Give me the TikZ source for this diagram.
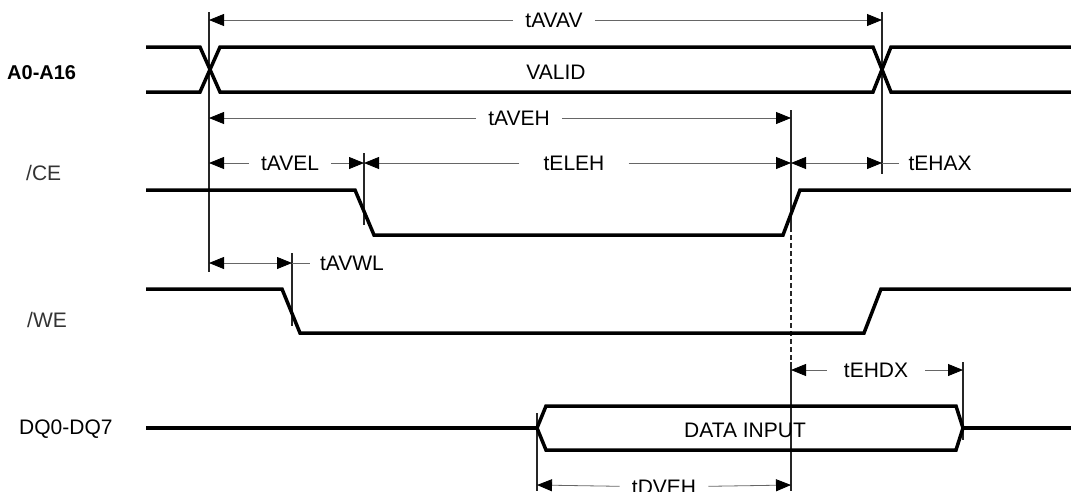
\documentclass[tikz,border=0pt]{standalone}
\usepackage{fontspec}
\setmainfont{Liberation Sans}
\usetikzlibrary{arrows.meta}

\begin{document}
\begin{tikzpicture}[x=1pt,y=-1pt,
  wave/.style={line width=3.5pt},
  guide/.style={line width=1.2pt,black!85},
  dim/.style={line width=0.8pt,black!60,arrows={-Triangle[length=15pt,width=12pt,black]}},
  dimboth/.style={line width=0.8pt,black!60,arrows={Triangle[length=15pt,width=12pt,black]-Triangle[length=15pt,width=12pt,black]}},
  tlbl/.style={font=\fontsize{21}{24}\selectfont,inner xsep=12pt,inner ysep=0pt},
  sig/.style={font=\fontsize{21}{24}\selectfont,anchor=west,inner sep=0pt}]
\useasboundingbox (0,0) rectangle (1071,491);

% signal names
\node[sig,font=\fontsize{20}{24}\selectfont\bfseries] (lAddr) at (7,73) {A0-A16};
\node[sig,black!80] (lCE) at (26,173) {/CE};
\node[sig,black!80] (lWE) at (27,320) {/WE};
\node[sig] (lDQ) at (19,429) {DQ0-DQ7};

% guide lines
\draw[guide] (209,12) -- (209,272);
\draw[guide] (882,12) -- (882,174);
\draw[guide] (791,110) -- (791,227);
\draw[guide,dash pattern=on 5pt off 3pt] (791,227) -- (791,362);
\draw[guide] (791,362) -- (791,491);
\draw[guide] (364,153) -- (364,225);
\draw[guide] (292,253) -- (292,326);
\draw[guide] (963,362) -- (963,440);
\draw[guide] (537,413) -- (537,491);

% waveforms
\draw[wave] (146,47) -- (200,47) -- (220,92) -- (873,92) -- (891,47) -- (1071,47);
\draw[wave] (146,92) -- (200,92) -- (220,47) -- (873,47) -- (891,92) -- (1071,92);
\node[font=\fontsize{21}{24}\selectfont] (valid) at (556,72) {VALID};
\draw[wave] (146,190) -- (355,190) -- (374,235) -- (783,235) -- (800,190) -- (1071,190);
\draw[wave] (146,289) -- (282,289) -- (300,333) -- (864,333) -- (881,289) -- (1071,289);
\draw[wave] (146,428) -- (537,428);
\draw[wave,line join=miter] (537,428) -- (546,406) -- (956,406) -- (963,428) -- (956,450) -- (546,450) -- cycle;
\draw[wave] (963,428) -- (1071,428);
\node[font=\fontsize{21}{24}\selectfont] (din) at (745,430) {DATA INPUT};

% timing arrows
\coordinate (avav1) at (209,20);
\coordinate (avav2) at (882,20);
\node[tlbl] (tAVAV) at (554,20) {tAVAV};
\draw[dim] (tAVAV) -- (avav1);
\draw[dim] (tAVAV) -- (avav2);

\coordinate (aveh1) at (209,118);
\coordinate (aveh2) at (791,118);
\node[tlbl] (tAVEH) at (519,118) {tAVEH};
\draw[dim] (tAVEH) -- (aveh1);
\draw[dim] (tAVEH) -- (aveh2);

\coordinate (avel1) at (209,163);
\coordinate (avel2) at (364,163);
\node[tlbl] (tAVEL) at (290,163) {tAVEL};
\draw[dim] (tAVEL) -- (avel1);
\draw[dim] (tAVEL) -- (avel2);

\coordinate (eleh2) at (791,163);
\node[tlbl,inner xsep=24pt] (tELEH) at (574,163) {tELEH};
\draw[dim] (tELEH) -- (avel2);
\draw[dim] (tELEH) -- (eleh2);

\coordinate (ehax2) at (882,163);
\node[tlbl,inner xsep=9pt] (tEHAX) at (940,163) {tEHAX};
\draw[dimboth] (eleh2) -- (ehax2);
\draw[dim,arrows=-] (ehax2) -- (tEHAX);

\coordinate (avwl1) at (209,263);
\coordinate (avwl2) at (292,263);
\node[tlbl,inner xsep=10pt] (tAVWL) at (352,263) {tAVWL};
\draw[dimboth] (avwl1) -- (avwl2);
\draw[dim,arrows=-] (avwl2) -- (tAVWL);

\coordinate (ehdx1) at (791,370);
\coordinate (ehdx2) at (963,370);
\node[tlbl,inner xsep=17pt] (tEHDX) at (876,370) {tEHDX};
\draw[dim] (tEHDX) -- (ehdx1);
\draw[dim] (tEHDX) -- (ehdx2);

\coordinate (dveh1) at (537,485);
\coordinate (dveh2) at (791,485);
\node[tlbl] (tDVEH) at (664,487) {tDVEH};
\draw[dim] (tDVEH) -- (dveh1);
\draw[dim] (tDVEH) -- (dveh2);
\end{tikzpicture}
\end{document}
